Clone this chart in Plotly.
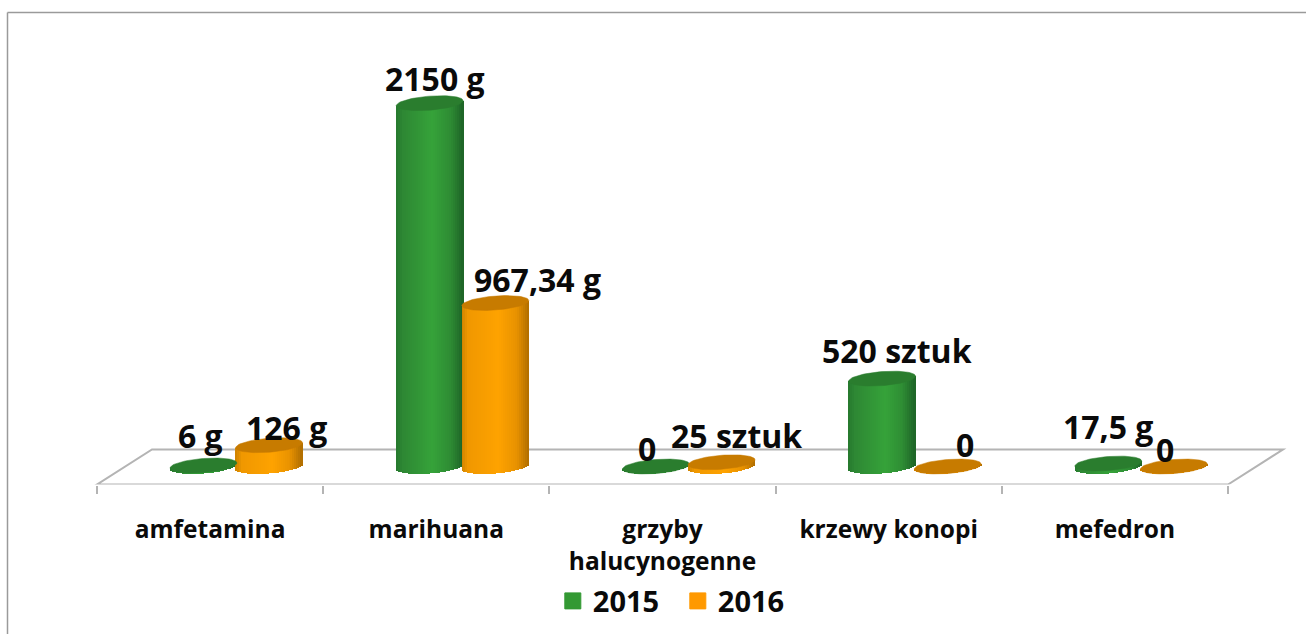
import numpy as np
import plotly.graph_objects as go

categories = ["amfetamina", "marihuana", "grzyby<br>halucynogenne", "krzewy konopi", "mefedron"]
values_2015 = [6, 2150, 0, 520, 17.5]
values_2016 = [126, 967.34, 25, 0, 0]
labels_2015 = ["6 g", "2150 g", "0", "520 sztuk", "17,5 g"]
labels_2016 = ["126 g", "967,34 g", "25 sztuk", "0", "0"]

# page geometry
W, H = 1306, 634
X0, CAT_W = 97.0, 226.2      # px of first axis tick, px per category
Y_BASE, PX_PER_UNIT = 466.5, 0.169
Y_AXIS = 484.5
Y_BACK, DEPTH_X = 449.5, 55

def cx_units(px):
    return (px - X0) / CAT_W - 0.5

def vy_units(py):
    return (Y_BASE - py) / PX_PER_UNIT

HALF_W = 33.5 / CAT_W
B_V = 7.0 / PX_PER_UNIT      # ellipse half height
T_V = 2.5 / PX_PER_UNIT      # ellipse tilt
N = 34
u = (np.arange(N) + 0.5) / N * 2 - 1

def mix(stops, t):
    xs = [s[0] for s in stops]
    return "rgb(%d,%d,%d)" % tuple(np.interp(t, xs, [s[1][i] for s in stops]) for i in range(3))

GREEN = [(0, (38, 120, 46)), (0.1, (46, 136, 52)), (0.55, (54, 163, 58)), (0.82, (46, 140, 52)), (1, (30, 100, 40))]
ORANGE = [(0, (205, 130, 0)), (0.1, (240, 152, 0)), (0.55, (255, 163, 0)), (0.82, (232, 146, 0)), (1, (176, 110, 0))]

fig = go.Figure()

def add_series(values, offset_px, stops):
    xs, ys, bases, cols = [], [], [], []
    for i, v in enumerate(values):
        c = i + offset_px / CAT_W
        for k in u:
            lo = T_V * k - B_V * np.sqrt(1 - k * k)
            xs.append(c + k * HALF_W)
            bases.append(lo)
            ys.append(v + T_V * k - lo)
            cols.append(mix(stops, (k + 1) / 2))
    fig.add_trace(go.Bar(x=xs, y=ys, base=bases, width=2.6 * HALF_W / N,
                         marker=dict(color=cols, line=dict(width=0)),
                         showlegend=False, hoverinfo="skip"))

add_series(values_2015, -6.6, GREEN)
add_series(values_2016, 59.0, ORANGE)

t = np.linspace(0, 2 * np.pi, 73)
def add_tops(values, offset_px, color):
    for i, v in enumerate(values):
        c = i + offset_px / CAT_W
        fig.add_trace(go.Scatter(x=c + HALF_W * np.cos(t),
                                 y=v + T_V * np.cos(t) + B_V * np.sin(t),
                                 mode="lines", fill="toself", fillcolor=color,
                                 line=dict(color=color, width=0.5),
                                 showlegend=False, hoverinfo="skip"))

add_tops(values_2015, -6.6, "#2a7d2e")
add_tops(values_2016, 59.0, "#c77b00")

fig.add_trace(go.Scatter(x=[None], y=[None], mode="markers", name="2015",
                         marker=dict(symbol="square", size=16, color="#339933", line=dict(width=1, color="#339933"))))
fig.add_trace(go.Scatter(x=[None], y=[None], mode="markers", name="2016",
                         marker=dict(symbol="square", size=16, color="#ff9900", line=dict(width=1, color="#ff9900"))))

LABEL_FONT = dict(family="Open Sans", size=32, color="#0a0a0a", weight=700)
dx_2015 = [-3, 5, -9, 15, 0]
dy_2015 = [30, 25, 18, 28, 37]
dx_2016 = [17, 42, 15, 17, -9]
dy_2016 = [18, 24, 27, 22, 17]
ann = []
for vals, labs, off, dxs, dys in [(values_2015, labels_2015, -6.6, dx_2015, dy_2015),
                                  (values_2016, labels_2016, 59.0, dx_2016, dy_2016)]:
    for i, (v, lab, dx, dy) in enumerate(zip(vals, labs, dxs, dys)):
        ann.append(dict(x=i + off / CAT_W, y=v, text=lab, showarrow=False, xshift=dx, yshift=dy,
                        xanchor="center", yanchor="middle", font=LABEL_FONT))

GREY = "#b4b4b4"
shapes = [
    dict(type="path", layer="below", line=dict(color=GREY, width=2),
         path="M %f,%f L %f,%f L %f,%f L %f,%f Z" % (
             cx_units(X0), vy_units(Y_AXIS), cx_units(X0 + 5 * CAT_W), vy_units(Y_AXIS),
             cx_units(X0 + 5 * CAT_W + DEPTH_X), vy_units(Y_BACK), cx_units(X0 + DEPTH_X), vy_units(Y_BACK))),
    dict(type="line", xref="paper", yref="paper", x0=7.5 / W, x1=7.5 / W, y0=0, y1=1 - 12.5 / H,
         line=dict(color="#9a9a9a", width=1.5)),
    dict(type="line", xref="paper", yref="paper", x0=7.5 / W, x1=1, y0=1 - 12.5 / H, y1=1 - 12.5 / H,
         line=dict(color="#9a9a9a", width=1.5)),
]

fig.update_layout(
    width=W, height=H, autosize=False,
    margin=dict(l=0, r=0, t=0, b=0),
    paper_bgcolor="white", plot_bgcolor="rgba(0,0,0,0)",
    barmode="overlay", bargap=0,
    annotations=ann, shapes=shapes,
    legend=dict(orientation="h", x=0.519, xanchor="center", y=0.052, yanchor="middle",
                bgcolor="rgba(0,0,0,0)", entrywidth=80, entrywidthmode="pixels",
                font=dict(family="Open Sans", size=29, color="#0a0a0a", weight=700),
                itemclick=False, itemdoubleclick=False),
    xaxis=dict(range=[cx_units(0), cx_units(W)], tickmode="array",
               tickvals=list(range(len(categories))), ticktext=categories,
               showgrid=False, zeroline=False, showline=False,
               ticks="outside", ticklen=23, tickcolor="rgba(0,0,0,0)",
               tickfont=dict(family="Open Sans", size=24.5, color="#0a0a0a", weight=700),
               tickangle=0,
               minor=dict(tickmode="array", tickvals=[i - 0.5 for i in range(len(categories) + 1)],
                          ticks="outside", ticklen=8, tickcolor=GREY, tickwidth=1.5, showgrid=False)),
    yaxis=dict(domain=[1 - Y_AXIS / H, 1], range=[vy_units(Y_AXIS), vy_units(0)],
               visible=False, showgrid=False, zeroline=False),
)

fig.write_html("out.html", config={"displayModeBar": False},
               post_script="document.body.style.margin='0';document.documentElement.style.overflow='hidden';")
